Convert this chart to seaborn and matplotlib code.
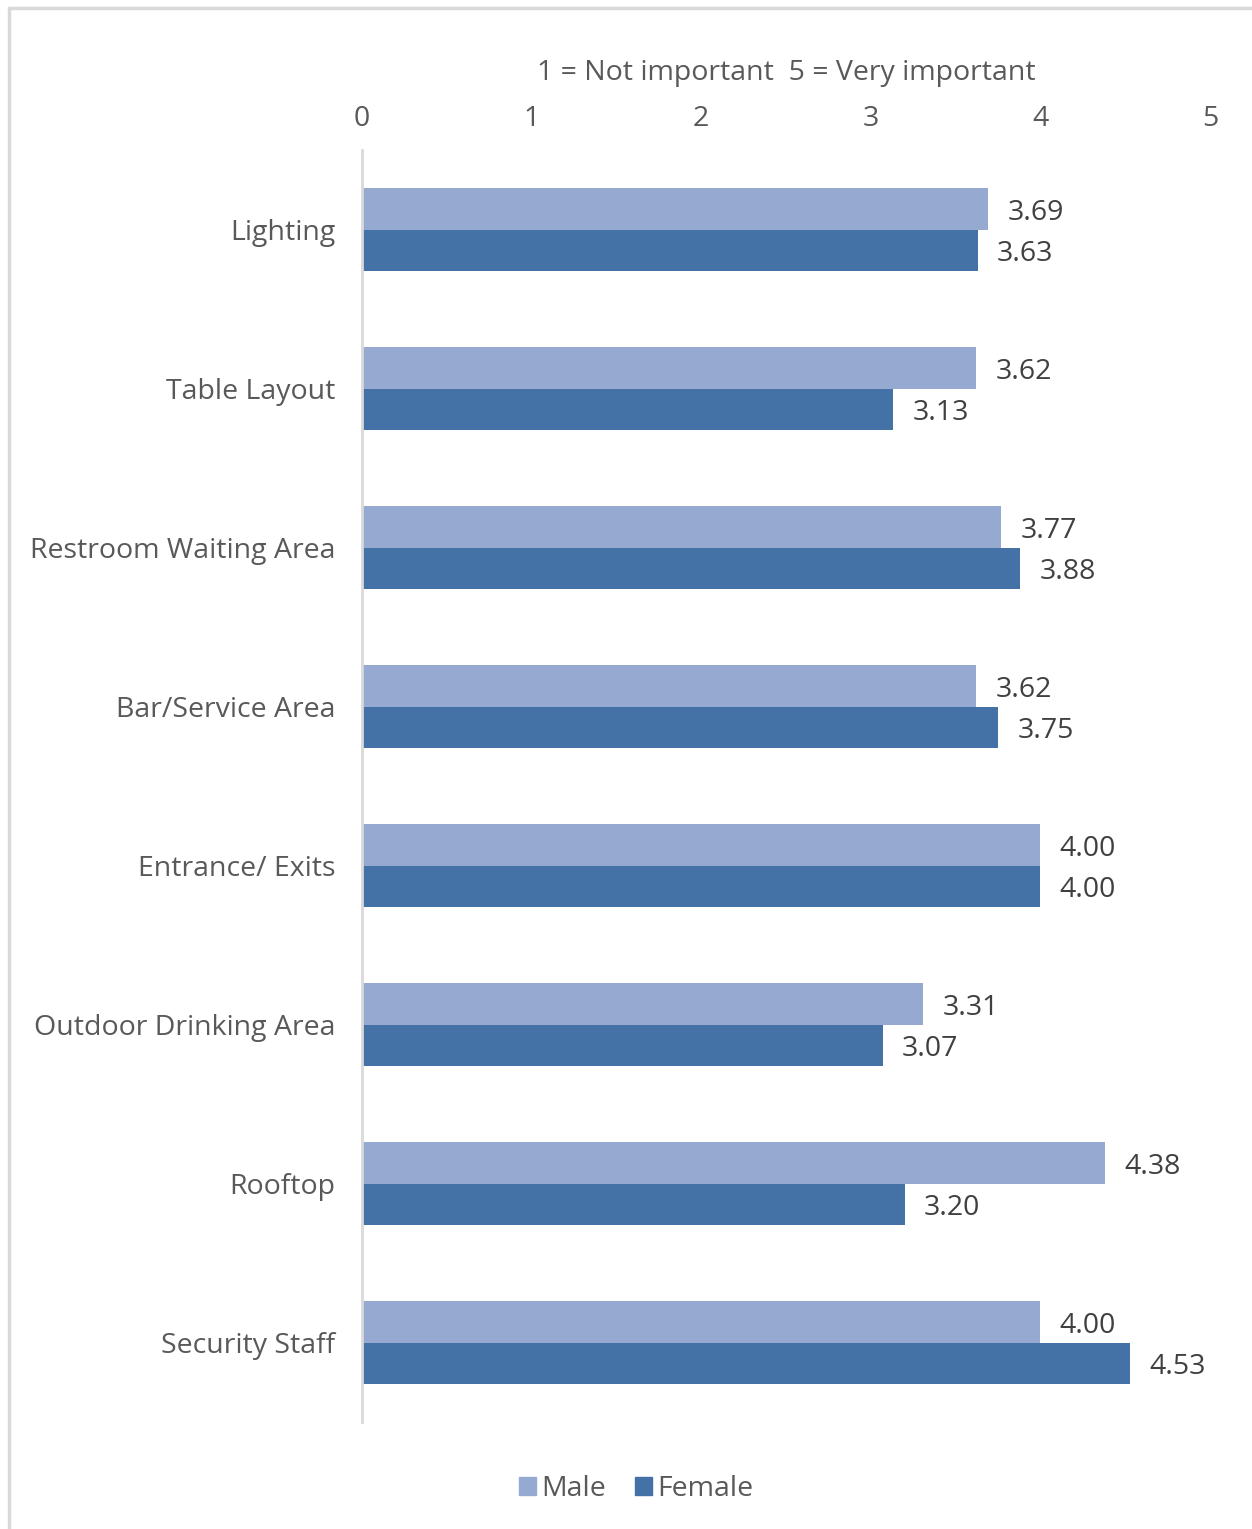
import matplotlib
matplotlib.use("Agg")
import matplotlib.pyplot as plt
from matplotlib.lines import Line2D
import seaborn as sns
import pandas as pd

# Importance ratings by venue feature and gender
features = ["Lighting", "Table Layout", "Restroom Waiting Area", "Bar/Service Area",
            "Entrance/ Exits", "Outdoor Drinking Area", "Rooftop", "Security Staff"]
male = [3.69, 3.62, 3.77, 3.62, 4.00, 3.31, 4.38, 4.00]
female = [3.63, 3.13, 3.88, 3.75, 4.00, 3.07, 3.20, 4.53]
groups = ["Male", "Female"]
x_ticks = [0, 1, 2, 3, 4, 5]

df = pd.DataFrame({
    "feature": features * 2,
    "score": male + female,
    "gender": ["Male"] * len(features) + ["Female"] * len(features),
})

sns.set_theme(style="white")
plt.rcParams["font.family"] = ["Open Sans", "DejaVu Sans"]

label_color = "#595959"
value_color = "#404040"
palette = {"Male": "#95A9D1", "Female": "#4472A7"}

fig = plt.figure(figsize=(12.52, 15.29), dpi=100)
ax = fig.add_axes([362 / 1252, 1 - 1422 / 1529, (1210 - 362) / 1252, (1422 - 150) / 1529])

sns.barplot(data=df, x="score", y="feature", hue="gender", order=features,
            hue_order=groups, palette=palette, orient="h", width=0.52,
            saturation=1, ax=ax, legend=False, linewidth=0)

ax.set_xlim(0, 5)
ax.set_ylim(7.5, -0.5)
ax.set_xticks(x_ticks)
ax.xaxis.tick_top()
ax.xaxis.set_label_position("top")
ax.set_xlabel("1 = Not important  5 = Very important", fontsize=20.5, color=label_color,
              labelpad=18)
ax.set_ylabel("")
ax.tick_params(axis="x", length=0, pad=12, labelsize=20.5, labelcolor=label_color)
ax.tick_params(axis="y", length=0, pad=19, labelsize=20.5, labelcolor=label_color)

for side in ["top", "right", "bottom"]:
    ax.spines[side].set_visible(False)
ax.spines["left"].set_color("#D9D9D9")
ax.spines["left"].set_linewidth(2)

# Value labels at the end of each bar
for container in ax.containers:
    texts = ax.bar_label(container, fmt="%.2f", padding=14, fontsize=20.5, color=value_color)
    for t in texts:
        t.xyann = (14, -3)

# Legend below the plot
handles = [plt.Rectangle((0, 0), 1, 1, color=palette[g]) for g in groups]
fig.legend(handles, groups, loc="center", bbox_to_anchor=(636 / 1252, 1 - 1489 / 1529),
           ncol=2, frameon=False, fontsize=20.5, labelcolor=label_color,
           handlelength=0.6, handleheight=0.6, handletextpad=0.2, columnspacing=1.0)

# Light frame along the top and left edges
fig.add_artist(Line2D([9 / 1252, 9 / 1252], [0, 1 - 8 / 1529], transform=fig.transFigure,
                      color="#D9D9D9", linewidth=2.5))
fig.add_artist(Line2D([9 / 1252, 1], [1 - 8 / 1529, 1 - 8 / 1529], transform=fig.transFigure,
                      color="#D9D9D9", linewidth=2.5))

fig.savefig("out.png", dpi=100, facecolor="white")
